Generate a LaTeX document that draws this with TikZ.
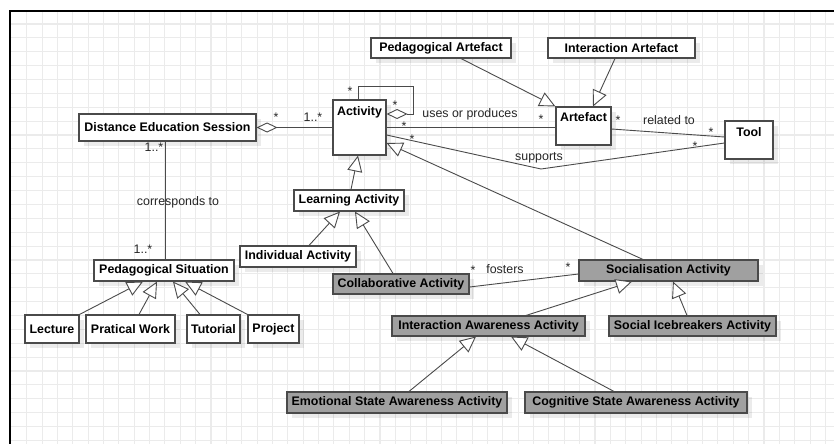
\documentclass[tikz,border=0pt]{standalone}
\usepackage{fontspec}
\setmainfont{Liberation Sans}
\usetikzlibrary{arrows.meta,shadows,calc}

\definecolor{gridgray}{HTML}{EBEBEB}
\definecolor{edgegray}{HTML}{4A4A4A}
\definecolor{boxgray}{HTML}{A0A0A0}

\tikzset{
  cls/.style={draw=edgegray, line width=1.1pt, fill=white, inner sep=0pt,
    font=\bfseries\fontsize{12.4}{14}\selectfont,
    drop shadow={shadow xshift=5pt, shadow yshift=-5pt, fill=black, opacity=0.08}},
  clsgray/.style={cls, fill=boxgray},
  clsname/.style={font=\bfseries\fontsize{12.4}{14}\selectfont, anchor=base, inner sep=0pt},
  conn/.style={draw=edgegray, line width=0.9pt},
  gen/.style={conn, -{Triangle[length=16pt,width=15pt,fill=white]}},
  agg/.style={conn, {Diamond[length=21pt,width=10pt,fill=white]}-},
  lbl/.style={font=\fontsize{12.4}{14}\selectfont, text=black!85, inner sep=0pt, anchor=base},
  gridline/.style={draw=gridgray, line width=1.1pt},
}

\begin{document}
\begin{tikzpicture}[x=1pt,y=-1pt]
\useasboundingbox (0,0) rectangle (834,444);
\fill[white] (0,0) rectangle (834,444);

% background grid
\foreach \i in {0,...,52} \draw[gridline] ({26.7+15.36*\i},12) -- ({26.7+15.36*\i},444);
\foreach \j in {0,...,30} \draw[gridline] (11,{24+13.88*\j}) -- (834,{24+13.88*\j});

% frame
\draw[line width=2.5pt] (834,11) -- (10,11) -- (10,444);

% classes
\node[cls, minimum width=177pt, minimum height=27pt] (des) at (167.5,127.5) {Distance Education Session};
\node[cls, minimum width=53pt, minimum height=55pt,
      label={[clsname,yshift=-16pt]north:Activity}] (act) at (359.5,127.5) {};
\node[cls, minimum width=110pt, minimum height=21pt] (la) at (349,200.5) {Learning Activity};
\node[cls, minimum width=140pt, minimum height=20pt] (pa) at (441,48) {Pedagogical Artefact};
\node[cls, minimum width=147pt, minimum height=20pt] (ia) at (621.5,48) {Interaction Artefact};
\node[cls, minimum width=55pt, minimum height=38pt,
      label={[clsname,yshift=-15pt]north:Artefact}] (art) at (583.5,126) {};
\node[cls, minimum width=48pt, minimum height=38pt,
      label={[clsname,yshift=-16pt]north:Tool}] (tool) at (749,140) {};
\node[cls, minimum width=140pt, minimum height=21pt] (ps) at (164,270.5) {Pedagogical Situation};
\node[cls, minimum width=54pt, minimum height=28pt] (lec) at (52,329) {Lecture};
\node[cls, minimum width=89pt, minimum height=28pt] (pw) at (130.5,329) {Pratical Work};
\node[cls, minimum width=53pt, minimum height=28pt] (tut) at (213.5,329) {Tutorial};
\node[cls, minimum width=51pt, minimum height=28pt] (proj) at (273.5,329) {Project};
\node[cls, minimum width=116pt, minimum height=21pt] (ind) at (298,256.5) {Individual Activity};
\node[clsgray, minimum width=136pt, minimum height=20pt] (col) at (401,284) {Collaborative Activity};
\node[clsgray, minimum width=179pt, minimum height=21pt] (soc) at (668.5,270.5) {Socialisation Activity};
\node[clsgray, minimum width=193pt, minimum height=20pt] (iaa) at (488.5,326) {Interaction Awareness Activity};
\node[clsgray, minimum width=167pt, minimum height=20pt] (sib) at (692.5,326) {Social Icebreakers Activity};
\node[clsgray, minimum width=220pt, minimum height=21pt] (esa) at (397,402.5) {Emotional State Awareness Activity};
\node[clsgray, minimum width=222pt, minimum height=21pt] (csa) at (636,402.5) {Cognitive State Awareness Activity};

% associations
\draw[agg] (des.east) -- (act.west);
\draw[agg] ([yshift=13.5pt]act.east) -| (413,86) -| ([xshift=-1.5pt]act.north);
\draw[conn] (act.east) -- (act.east -| art.west);
\coordinate (bend) at (541,169);
\draw[conn] ([yshift=-7.5pt]act.east) -- (bend) -- ([yshift=-3pt]tool.west);
\draw[conn] ([yshift=-3pt]art.east) -- ([yshift=3pt]tool.west);
\draw[conn] ([xshift=-2.5pt]des.south) -- ([xshift=1pt]ps.north);
\draw[conn] ([yshift=-3pt]col.east) -- ([yshift=-3.5pt]soc.west);

% generalisations
\draw[gen] ([xshift=20pt]pa.south) -- (art.north west);
\draw[gen] ([xshift=-6.5pt]ia.south) -- ([xshift=9.5pt]art.north);
\draw[gen] ([xshift=2pt]la.north) -- ([xshift=-1.5pt]act.south);
\draw[gen] ([xshift=11pt]ind.north) -- ([xshift=-9pt]la.south);
\draw[gen] ([xshift=-8pt]col.north) -- ([xshift=6pt]la.south);
\draw[gen] ([xshift=-25.5pt]soc.north) -- ([yshift=-15.5pt]act.east);
\draw[gen] ([xshift=37.5pt]iaa.north) -- ([xshift=-36.5pt]soc.south);
\draw[gen] ([xshift=-5.5pt]sib.north) -- ([xshift=4.5pt]soc.south);
\draw[gen] ([xshift=12pt]esa.north) -- ([xshift=-12.5pt]iaa.south);
\draw[gen] ([xshift=-22pt]csa.north) -- ([xshift=22.5pt]iaa.south);
\draw[gen] (lec.north east) -- ([xshift=-21pt]ps.south);
\draw[gen] ([xshift=8.5pt]pw.north) -- ([xshift=-7pt]ps.south);
\draw[gen] ([xshift=-13.5pt]tut.north) -- ([xshift=9pt]ps.south);
\draw[gen] (proj.north west) -- ([xshift=21pt]ps.south);

% multiplicities and role names
\node[lbl] (m1) at (276,121.5) {*};
\node[lbl] (m2) at (313,121.5) {1..*};
\node[lbl] (m3) at (350,95) {*};
\node[lbl] (m4) at (395,109.5) {*};
\node[lbl] (m5) at (404,130) {*};
\node[lbl] (m6) at (541,123.5) {*};
\node[lbl] (t1) at (470,117.5) {uses or produces};
\node[lbl] (m7) at (412,143.5) {*};
\node[lbl] (m8) at (695,150.5) {*};
\node[lbl] (t2) at (539,160.5) {supports};
\node[lbl] (m9) at (618,124) {*};
\node[lbl] (m10) at (711,136.5) {*};
\node[lbl] (t3) at (669,124.5) {related to};
\node[lbl] (m11) at (154,151.5) {1..*};
\node[lbl] (t4) at (178,205) {corresponds to};
\node[lbl] (m12) at (143,253.5) {1..*};
\node[lbl] (m13) at (473,274) {*};
\node[lbl] (t5) at (505,273.5) {fosters};
\node[lbl] (m14) at (568,271) {*};
\end{tikzpicture}
\end{document}
